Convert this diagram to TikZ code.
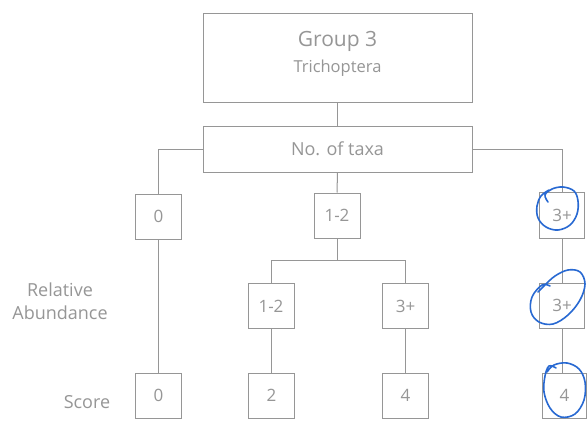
\documentclass[tikz,border=0pt]{standalone}
\usepackage{fontspec}
\setmainfont{Open Sans}
\begin{document}
\definecolor{linegray}{RGB}{150,150,150}
\definecolor{textgray}{RGB}{150,150,150}
\definecolor{penblue}{RGB}{40,105,210}
\begin{tikzpicture}[x=1pt,y=-1pt,
  box/.style={draw=linegray, line width=1pt, text=textgray, inner sep=0pt,
    font=\fontsize{17}{20}\selectfont},
  smallbox/.style={box, minimum width=46pt, minimum height=45pt},
  wire/.style={draw=linegray, line width=1pt},
  label/.style={text=textgray, font=\fontsize{18}{23}\selectfont, align=center},
  pen/.style={draw=penblue, line width=1.6pt, line cap=round, line join=round}]
\useasboundingbox (0,0) rectangle (588,420);
\fill[white] (0,0) rectangle (588,420);

% header boxes
\node[box, minimum width=269pt, minimum height=89pt] (top) at (337.5,58) {};
\node[text=textgray, font=\fontsize{21}{26}\selectfont] (top-title) at (337.5,41) {Group 3};
\node[text=textgray, font=\fontsize{16.5}{20}\selectfont] (top-sub) at (337.5,68) {Trichoptera};
\node[box, minimum width=269pt, minimum height=46pt, font=\fontsize{18}{22}\selectfont] (taxa) at (337.5,149) {No. of taxa};

% number of taxa
\node[smallbox] (n0) at (158.5,216.5) {0};
\node[smallbox] (n12) at (337,215.5) {1-2};
\node[smallbox, minimum width=45pt, minimum height=46pt] (n3) at (562,215) {3+};

% relative abundance
\node[smallbox] (a12) at (271,306) {1-2};
\node[smallbox] (a3) at (405.5,306) {3+};
\node[smallbox, minimum width=45pt] (a3r) at (562,305.5) {3+};

% scores
\node[smallbox] (s0) at (158.5,395.5) {0};
\node[smallbox] (s2) at (271.5,395.5) {2};
\node[smallbox] (s4) at (405.5,395.5) {4};
\node[smallbox, minimum width=44pt] (s4r) at (564.5,395.5) {4};

% row labels
\node[label] (lab-ra) at (60,301) {Relative\\Abundance};
\node[label] (lab-sc) at (87,402) {Score};

% connectors
\draw[wire] (top.south) -- (taxa.north);
\draw[wire] (taxa.west) -| (n0.north);
\draw[wire] (taxa.east) -| (n3.north);
\draw[wire] (taxa.south) -- (n12.north);
\coordinate (split) at (337,260);
\draw[wire] (n12.south) -- (split);
\draw[wire] (split) -| (a12.north);
\draw[wire] (split) -| (a3.north);
\draw[wire] (n0.south) -- (s0.north);
\draw[wire] (a12.south) -- (a12.south |- s2.north);
\draw[wire] (a3.south) -- (s4.north);
\draw[wire] (n3.south) -- (a3r.north);
\draw[wire] (a3r.south) -- (a3r.south |- s4r.north);

% hand-drawn pen loops
\draw[pen] plot[smooth, tension=0.6] coordinates {
  (548,202) (545,195) (552,189) (563,187) (574,191) (578,201) (577,214)
  (570,225) (558,230) (546,227) (538,218) (537,206) (541,196) (549,190)};
\draw[pen] plot[smooth, tension=0.6] coordinates {
  (550,286) (542,285) (532,297) (531,312) (539,322) (553,324) (568,315)
  (580,300) (585,284) (580,272) (568,270) (555,276) (545,285) (538,292)};
\draw[pen] plot[smooth, tension=0.6] coordinates {
  (556,368) (549,366) (545,376) (544,392) (550,408) (561,417) (575,414)
  (584,400) (585,382) (579,369) (567,363) (554,365) (547,372)};
\end{tikzpicture}
\end{document}
